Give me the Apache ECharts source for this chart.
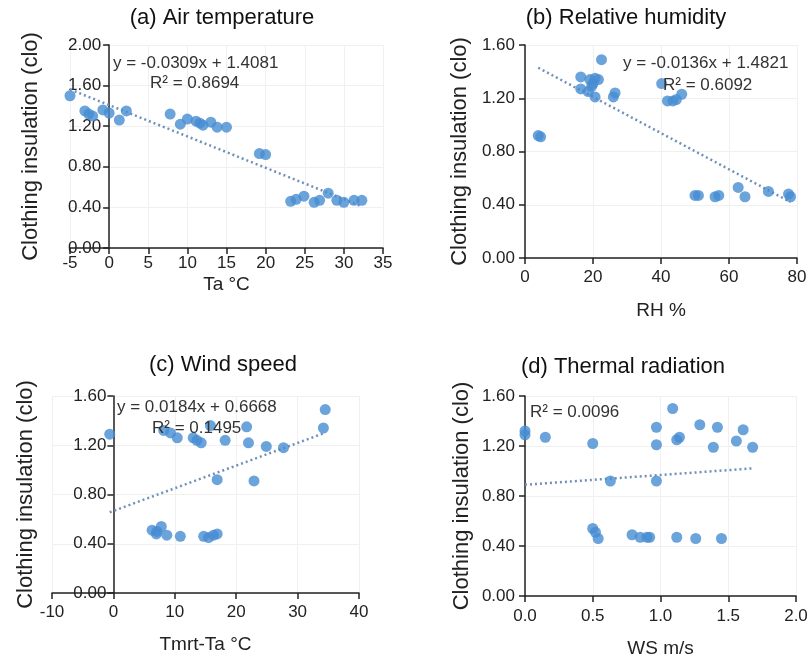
<!DOCTYPE html>
<html>
<head>
<meta charset="utf-8">
<title>Clothing insulation</title>
<script src="https://cdn.jsdelivr.net/npm/echarts@6/dist/echarts.min.js"></script>
<style>
  html, body { margin: 0; padding: 0; background: #fff; }
  #chart { width: 808px; height: 659px; }
</style>
</head>
<body>
<div id="chart"></div>
<script>
// (a) air temperature
const taX = [-5, -3.1, -2.6, -2.1, -0.8, 0, 1.3, 2.2, 7.8, 9.1, 10, 11.1, 11.6, 12, 13, 13.8, 15, 19.2, 20, 23.2, 23.9, 24.9, 26.2, 26.9, 28, 29.1, 30, 31.3, 32.3]
const taY = [1.50, 1.35, 1.32, 1.30, 1.36, 1.33, 1.26, 1.35, 1.32, 1.22, 1.27, 1.25, 1.23, 1.21, 1.24, 1.19, 1.19, 0.93, 0.92, 0.46, 0.48, 0.51, 0.45, 0.47, 0.54, 0.47, 0.45, 0.47, 0.47]
// (b) relative humidity
const rhX = [3.9, 4.6, 16.4, 16.4, 18.6, 19.1, 19.6, 20.0, 20.6, 20.6, 21.6, 22.5, 26.0, 26.5, 40.2, 41.9, 43.5, 44.5, 46.1, 50.0, 51.0, 55.9, 57.0, 62.7, 64.7, 71.6, 77.5, 78.1]
const rhY = [0.92, 0.91, 1.36, 1.27, 1.25, 1.34, 1.29, 1.31, 1.35, 1.21, 1.34, 1.49, 1.21, 1.24, 1.31, 1.18, 1.18, 1.19, 1.23, 0.47, 0.47, 0.46, 0.47, 0.53, 0.46, 0.50, 0.48, 0.46]
// (c) Tmrt - Ta
const trX = [-0.6, 6.3, 7.0, 7.1, 7.8, 8.2, 8.7, 9.3, 10.4, 10.9, 13.0, 13.6, 14.3, 14.7, 15.5, 15.8, 16.3, 16.9, 16.9, 18.2, 21.7, 22.0, 22.9, 24.9, 27.7, 34.2, 34.5]
const trY = [1.29, 0.51, 0.48, 0.50, 0.54, 1.32, 0.47, 1.30, 1.26, 0.46, 1.26, 1.24, 1.22, 0.46, 0.45, 1.36, 0.47, 0.48, 0.92, 1.24, 1.35, 1.22, 0.91, 1.19, 1.18, 1.34, 1.49]
// (d) wind speed
const wsX = [0, 0, 0.15, 0.5, 0.5, 0.52, 0.54, 0.63, 0.79, 0.85, 0.9, 0.92, 0.97, 0.97, 0.97, 1.09, 1.12, 1.12, 1.14, 1.26, 1.29, 1.39, 1.42, 1.45, 1.56, 1.61, 1.68]
const wsY = [1.32, 1.29, 1.27, 1.22, 0.54, 0.51, 0.46, 0.92, 0.49, 0.47, 0.47, 0.47, 1.35, 1.21, 0.92, 1.50, 1.25, 0.47, 1.27, 0.46, 1.37, 1.19, 1.35, 0.46, 1.24, 1.33, 1.19]

// trend line coefficients [slope, intercept]
const trendCoef = [[-0.0309, 1.4081], [-0.0136, 1.4821], [0.0184, 0.6668], [0.078, 0.89]]
const panelTitles = ['(a) Air temperature', '(b) Relative humidity', '(c) Wind speed', '(d) Thermal radiation']
const xNames = ['Ta \u00b0C', 'RH %', 'Tmrt-Ta \u00b0C', 'WS m/s']
const eqLines = ['y = -0.0309x + 1.4081', 'y = -0.0136x + 1.4821', 'y = 0.0184x + 0.6668', '']
const r2Lines = ['R\u00b2 = 0.8694', 'R\u00b2 = 0.6092', 'R\u00b2 = 0.1495', 'R\u00b2 = 0.0096']
const xMin = [-5, 0, -10, 0]
const xMax = [35, 80, 40, 2]
const xStep = [5, 20, 10, 0.5]
const yMax = [2, 1.6, 1.6, 1.6]

const xs = [taX, rhX, trX, wsX]
const ys = [taY, rhY, trY, wsY]

const font = '"Liberation Sans", Arial, sans-serif'
const dotColor = '#468cd2'
const trendColor = '#7090b8'

// layout per panel
const grids = [
  { left: 70, top: 45, width: 313, height: 203, outerBoundsMode: 'none' },
  { left: 525, top: 45, width: 272, height: 213, outerBoundsMode: 'none' },
  { left: 52, top: 396, width: 307, height: 197, outerBoundsMode: 'none' },
  { left: 525, top: 396, width: 271, height: 200, outerBoundsMode: 'none' }
]
const yNameGap = [67, 54, 76, 52]
const xNameGap = [27, 43, 42, 43]
const xLabelMargin = [7, 11, 11, 12]
const yLabelMargin = [8, 10, 7, 10]
const titlePos = [[222, 18], [626, 18], [223, 365], [623, 367]]
const eqPos = [[113, 63], [623, 63], [117, 407], null]
const r2Pos = [[150, 83], [663, 85], [152, 428], [530, 412]]

const chart = echarts.init(document.getElementById('chart'))

const xAxes = [], yAxes = [], series = [], graphics = []
for (let i = 0; i < 4; i++) {
  // y axis sits at x = 0, like the original plots
  const shift = -grids[i].width * (0 - xMin[i]) / (xMax[i] - xMin[i])
  xAxes.push({
    type: 'value', gridIndex: i, min: xMin[i], max: xMax[i], interval: xStep[i],
    name: xNames[i], nameLocation: 'middle', nameGap: xNameGap[i],
    nameTextStyle: { fontFamily: font, fontSize: 19, color: '#222' },
    axisLine: { lineStyle: { color: '#222', width: 1.5 } },
    axisTick: { lineStyle: { color: '#222', width: 1.5 }, length: 6 },
    axisLabel: {
      fontFamily: font, fontSize: 17, color: '#222', margin: xLabelMargin[i],
      formatter: v => i === 3 ? v.toFixed(1) : String(v)
    },
    splitLine: { show: true, lineStyle: { color: '#f0f0f0' } }
  })
  yAxes.push({
    type: 'value', gridIndex: i, min: 0, max: yMax[i], interval: 0.4, offset: shift,
    name: 'Clothing insulation (clo)', nameLocation: 'middle', nameGap: yNameGap[i],
    nameTextStyle: { fontFamily: font, fontSize: 22, color: '#222' },
    axisLine: { show: true, onZero: false, lineStyle: { color: '#222', width: 1.5 } },
    axisTick: { show: true, lineStyle: { color: '#222', width: 1.5 }, length: 6 },
    axisLabel: { fontFamily: font, fontSize: 17, color: '#222', margin: yLabelMargin[i], formatter: v => v.toFixed(2) },
    splitLine: { show: true, lineStyle: { color: '#f0f0f0' } }
  })
  series.push({
    type: 'scatter', xAxisIndex: i, yAxisIndex: i, symbolSize: 11,
    itemStyle: { color: dotColor },
    data: xs[i].map((x, k) => [x, ys[i][k]]),
    z: 3
  })
  const lo = Math.min(...xs[i]), hi = Math.max(...xs[i])
  const [m, b] = trendCoef[i]
  series.push({
    type: 'line', xAxisIndex: i, yAxisIndex: i, symbol: 'none', silent: true,
    lineStyle: { color: trendColor, type: [2, 3], width: 2.5 },
    data: [[lo, m * lo + b], [hi, m * hi + b]],
    z: 2
  })
  graphics.push({
    type: 'text', x: titlePos[i][0], y: titlePos[i][1], z: 100,
    style: { text: panelTitles[i], font: '22px ' + font, fill: '#111', textAlign: 'center', textVerticalAlign: 'middle' }
  })
  if (eqPos[i]) {
    graphics.push({
      type: 'text', x: eqPos[i][0], y: eqPos[i][1], z: 100,
      style: { text: eqLines[i], font: '17px ' + font, fill: '#333', textAlign: 'left', textVerticalAlign: 'middle' }
    })
  }
  graphics.push({
    type: 'text', x: r2Pos[i][0], y: r2Pos[i][1], z: 100,
    style: { text: r2Lines[i], font: '17px ' + font, fill: '#333', textAlign: 'left', textVerticalAlign: 'middle' }
  })
}

chart.setOption({
  animation: false,
  backgroundColor: '#fff',
  grid: grids,
  xAxis: xAxes,
  yAxis: yAxes,
  series: series,
  graphic: graphics
})
</script>
</body>
</html>
